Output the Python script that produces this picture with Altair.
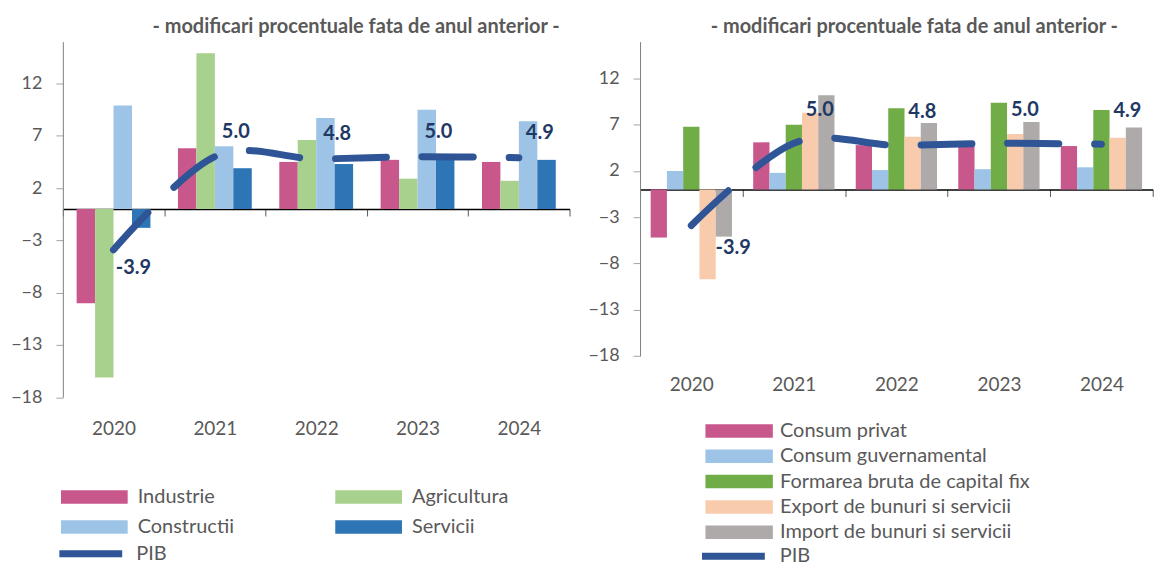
import altair as alt
import pandas as pd

years = ["2020", "2021", "2022", "2023", "2024"]
pib = [-3.9, 5.0, 4.8, 5.0, 4.9]

# Left panel: sectors
ramuri = ["Industrie", "Agricultura", "Constructii", "Servicii"]
industrie = [-9.0, 5.8, 4.5, 4.7, 4.5]
agricultura = [-16.1, 14.9, 6.6, 2.9, 2.7]
constructii = [9.9, 6.0, 8.7, 9.5, 8.4]
servicii = [-1.8, 3.9, 4.3, 4.7, 4.7]
culori_ramuri = ["#C8578C", "#A9D18E", "#9DC3E6", "#2E75B6"]

# Right panel: demand components
componente = [
    "Consum privat",
    "Consum guvernamental",
    "Formarea bruta de capital fix",
    "Export de bunuri si servicii",
    "Import de bunuri si servicii",
]
consum_privat = [-5.2, 5.1, 4.8, 4.8, 4.7]
consum_guvernamental = [2.0, 1.8, 2.1, 2.2, 2.4]
fbcf = [6.8, 7.0, 8.8, 9.4, 8.6]
export = [-9.7, 8.3, 5.7, 6.0, 5.6]
importuri = [-5.1, 10.2, 7.2, 7.3, 6.7]
culori_componente = ["#C8578C", "#9DC3E6", "#70AD47", "#F8CBAD", "#AEAAAA"]

titlu = "- modificari procentuale fata de anul anterior -"
y_ticks = [-18, -13, -8, -3, 2, 7, 12]
PIB_COLOR = "#2F5597"
LABEL_COLOR = "#1F3864"
GREY = "#595959"
RECT = "M-1,-0.2H1V0.2H-1Z"


def long_df(names, series):
    rows = []
    for name, vals in zip(names, series):
        for an, v in zip(years, vals):
            rows.append({"an": an, "serie": name, "valoare": v})
    return pd.DataFrame(rows)


pib_df = pd.DataFrame({
    "an": years,
    "valoare": pib,
    "serie": ["PIB"] * len(years),
    "eticheta": [f"{v:.1f}" for v in pib],
})


def panel(bars_df, names, colors, width, height, offset_pad, zero_offset,
          label_pad, title_dx, title_offset, leg, pib_leg, pos_lbl, neg_lbl):
    x = alt.X(
        "an:N", title=None, sort=years,
        scale=alt.Scale(paddingInner=0, paddingOuter=0),
        axis=alt.Axis(tickBand="extent", offset=zero_offset, labelPadding=label_pad,
                      domainColor="#000000", domainWidth=1.5, tickColor=GREY,
                      tickSize=7, labelAngle=0, labelFontSize=19, labelColor=GREY),
    )
    y = alt.Y(
        "valoare:Q", title=None,
        scale=alt.Scale(domain=[-18, 16], nice=False, zero=False),
        axis=alt.Axis(values=y_ticks, grid=False, domainColor="#7F7F7F",
                      tickColor="#A6A6A6", tickSize=7, labelPadding=14,
                      labelFontSize=18, labelColor=GREY),
    )
    bars = alt.Chart(bars_df).mark_bar().encode(
        x=x,
        y=y,
        xOffset=alt.XOffset("serie:N", sort=names,
                            scale=alt.Scale(domain=names, paddingInner=0, paddingOuter=offset_pad)),
        color=alt.Color(
            "serie:N", sort=names,
            scale=alt.Scale(domain=names, range=colors),
            legend=alt.Legend(title=None, orient="none", legendX=leg["x"], legendY=leg["y"],
                              columns=leg["columns"], direction="horizontal",
                              symbolType=RECT, symbolSize=leg["size"],
                              symbolStrokeWidth=0, labelFontSize=leg["font"], labelColor=GREY,
                              labelOffset=leg["labelOffset"], columnPadding=leg["colPad"],
                              rowPadding=leg["rowPad"], clipHeight=leg["clip"], padding=0,
                              labelLimit=400),
        ),
    )
    line = alt.Chart(pib_df).mark_line(
        interpolate="cardinal", strokeWidth=7, strokeCap="round", strokeDash=[51, 36]
    ).encode(
        x=alt.X("an:N", sort=years),
        y="valoare:Q",
        stroke=alt.Stroke(
            "serie:N", scale=alt.Scale(domain=["PIB"], range=[PIB_COLOR]),
            legend=alt.Legend(title=None, orient="none", legendX=pib_leg["x"], legendY=pib_leg["y"],
                              symbolType="stroke", symbolSize=pib_leg["size"], symbolStrokeWidth=7,
                              symbolDash=[200, 1], labelFontSize=leg["font"], labelColor=GREY,
                              labelOffset=pib_leg["labelOffset"], clipHeight=leg["clip"], padding=0),
        ),
    )
    txt_pos = alt.Chart(pib_df).transform_filter("datum.valoare >= 0").mark_text(
        dx=pos_lbl[0], dy=pos_lbl[1], fontSize=20, fontWeight="bold", color=LABEL_COLOR
    ).encode(x=alt.X("an:N", sort=years), y="valoare:Q", text="eticheta:N")
    txt_neg = alt.Chart(pib_df).transform_filter("datum.valoare < 0").mark_text(
        dx=neg_lbl[0], dy=neg_lbl[1], fontSize=20, fontWeight="bold", color=LABEL_COLOR
    ).encode(x=alt.X("an:N", sort=years), y="valoare:Q", text="eticheta:N")
    return alt.layer(bars, line, txt_pos, txt_neg).properties(
        width=width, height=height,
        title=alt.TitleParams(titlu, fontSize=20, fontWeight="bold", color=GREY,
                              anchor="middle", frame="group", dx=title_dx, offset=title_offset),
    ).resolve_scale(color="independent", stroke="independent")


left = panel(
    long_df(ramuri, [industrie, agricultura, constructii, servicii]),
    ramuri, culori_ramuri,
    width=508, height=356.6, offset_pad=0.746, zero_offset=-188.8, label_pad=204.5,
    title_dx=40, title_offset=4.5,
    leg={"x": -2, "y": 444.6, "columns": 2, "size": 4489, "font": 20, "labelOffset": 10,
         "colPad": 101, "rowPad": 6, "clip": 24},
    pib_leg={"x": -7, "y": 501.5, "size": 3969, "labelOffset": 10.5},
    pos_lbl=(21, -25), neg_lbl=(20, 18),
)

right = panel(
    long_df(componente, [consum_privat, consum_guvernamental, fbcf, export, importuri]),
    componente, culori_componente,
    width=514, height=315, offset_pad=0.653, zero_offset=-166.8, label_pad=179.5,
    title_dx=18, title_offset=4.5,
    leg={"x": 65.3, "y": 379.3, "columns": 1, "size": 4583, "font": 20, "labelOffset": 7,
         "colPad": 10, "rowPad": 3.4, "clip": 22},
    pib_leg={"x": 58.6, "y": 505, "size": 3969, "labelOffset": 11.4},
    pos_lbl=(26, -33), neg_lbl=(42, 23),
)

chart = alt.hconcat(left, right, spacing=16.7).resolve_scale(
    color="independent", stroke="independent", y="independent", x="independent",
    xOffset="independent"
).resolve_legend(color="independent", stroke="independent").properties(
    padding={"left": 2, "top": 8, "right": 0, "bottom": 0}
).configure(font="Lato").configure_view(stroke=None)

chart.save("out.html", embed_options={"renderer": "svg", "actions": False})
